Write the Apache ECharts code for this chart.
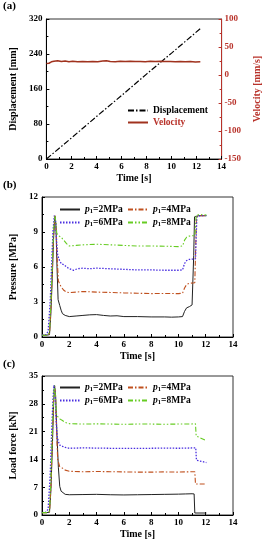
<!DOCTYPE html>
<html><head><meta charset="utf-8">
<script src="https://cdn.jsdelivr.net/npm/echarts@6/dist/echarts.min.js"></script>
<style>html,body{margin:0;padding:0;background:#fff}#c{width:270px;height:550px}</style>
</head><body><div id="c"></div>
<script>
// ---- data ----
const xTicks = [0,2,4,6,8,10,12,14];
const displacement = [[0,0],[2,48],[4,97],[6,145],[8,194],[10,242],[12.3,298]];
const velocity = [[0,20.5],[0.2,21],[0.4,23.5],[0.6,24.5],[0.9,25.5],[1.2,24],[1.5,25],[1.8,23.8],[2.1,24.6],[2.5,23.5],[2.9,24.2],[3.3,23.6],[3.7,24.3],[4.1,23.7],[4.5,24.8],[4.8,25.6],[5.1,24.2],[5.5,23.8],[5.9,24.5],[6.3,24],[6.7,24.6],[7.1,23.9],[7.5,24.3],[7.9,23.6],[8.3,24.4],[8.7,24],[9.1,24.6],[9.5,24.1],[9.9,24.3],[10.3,23.8],[10.7,24.2],[11.1,23.6],[11.5,24],[11.9,23.2],[12.3,23.5]];
const pressure2 = [[0,0.15],[0.3,0.15],[0.55,0.2],[0.65,2],[0.75,5],[0.85,8.5],[0.95,10.35],[1.02,9.6],[1.1,6],[1.18,3.2],[1.3,2.7],[1.4,2.3],[1.5,2.0],[1.7,1.85],[2,1.75],[2.5,1.8],[3,1.85],[3.5,1.9],[4,1.92],[4.5,1.85],[5,1.8],[5.5,1.82],[6,1.75],[7,1.75],[8,1.72],[9,1.72],[9.5,1.7],[10,1.72],[10.3,1.75],[10.45,2.2],[10.6,2.5],[10.8,2.6],[11.0,2.75],[11.08,2.8],[11.12,7],[11.18,10.3],[11.5,10.4],[12.05,10.4]];
const pressure4 = [[0,0.15],[0.4,0.15],[0.55,0.3],[0.65,2.5],[0.75,5.5],[0.85,9],[0.95,10.4],[1.03,9.5],[1.1,7],[1.2,4.8],[1.4,4.3],[1.6,4.0],[1.8,3.85],[2,3.8],[2.5,3.85],[3,3.9],[4,3.85],[5,3.82],[6,3.78],[7,3.75],[8,3.72],[9,3.73],[10,3.72],[10.3,3.75],[10.45,4.2],[10.6,4.5],[10.8,4.6],[11.2,4.65],[11.25,7],[11.32,10.3],[11.6,10.4],[12.05,10.4]];
const pressure6 = [[0,0.15],[0.3,0.2],[0.45,0.5],[0.6,3],[0.7,6],[0.8,9],[0.9,10.4],[1.0,9.9],[1.08,8],[1.15,7],[1.3,6.5],[1.45,6.25],[1.6,6.2],[1.8,6.0],[2,5.85],[2.3,5.72],[2.6,5.85],[3,5.9],[3.5,5.85],[4,5.9],[5,5.85],[6,5.8],[7,5.75],[8,5.75],[9,5.72],[10,5.72],[10.3,5.75],[10.45,6.3],[10.6,6.55],[10.8,6.65],[11.25,6.7],[11.3,8.5],[11.35,10.3],[11.6,10.4],[12.05,10.4]];
const pressure8 = [[0,0.15],[0.4,0.15],[0.55,0.4],[0.65,3],[0.75,6],[0.85,9.2],[0.95,10.4],[1.02,9.8],[1.08,8.9],[1.2,8.7],[1.4,8.55],[1.6,8.3],[1.8,8.0],[2,7.8],[2.5,7.85],[3,7.9],[4,7.95],[5,7.9],[6,7.85],[7,7.8],[8,7.8],[9,7.78],[10,7.75],[10.3,7.8],[10.45,8.3],[10.6,8.55],[10.8,8.65],[11.2,8.7],[11.25,9.5],[11.3,10.45],[11.6,10.5],[12.05,10.45]];
const load2 = [[0,0.6],[0.3,0.6],[0.55,0.7],[0.65,6],[0.75,16],[0.85,28],[0.92,32.6],[1.0,30],[1.1,20],[1.2,12],[1.3,7.2],[1.4,6.0],[1.5,5.5],[1.7,5.2],[2,5.1],[3,5.15],[4,5.2],[5,5.1],[6,5.05],[7,5.1],[8,5.15],[9,5.2],[10,5.25],[10.5,5.3],[11,5.35],[11.15,5.3],[11.2,0.5],[12.05,0.5]];
const load4 = [[0,0.6],[0.4,0.6],[0.55,0.8],[0.65,7],[0.75,18],[0.85,29],[0.93,32.5],[1.0,29],[1.08,20],[1.15,14],[1.3,12.2],[1.5,11.8],[1.7,11.3],[2,11.0],[3,10.9],[4,10.95],[5,10.9],[6,10.85],[7,10.8],[8,10.8],[9,10.85],[10,10.8],[10.5,10.85],[11.2,10.9],[11.25,7.8],[12.05,7.8]];
const load6 = [[0,0.6],[0.3,0.7],[0.45,1.5],[0.6,10],[0.7,20],[0.8,29],[0.88,32.7],[0.95,31],[1.02,25],[1.1,20],[1.2,18.5],[1.3,17.6],[1.5,17.3],[1.7,17.0],[2,16.8],[3,16.9],[4,16.85],[5,16.8],[6,16.75],[7,16.8],[8,16.8],[9,16.85],[10,16.8],[10.5,16.85],[11.27,16.9],[11.32,13.8],[12.05,13.2]];
const load8 = [[0,0.6],[0.4,0.6],[0.55,1],[0.65,9],[0.75,20],[0.85,30],[0.92,32.6],[0.98,30],[1.04,26],[1.1,25],[1.3,24.2],[1.5,23.8],[1.7,23.3],[2,23.0],[3,22.9],[4,22.95],[5,22.9],[6,22.85],[7,22.9],[8,22.9],[9,22.85],[10,22.9],[10.5,22.9],[11.25,22.95],[11.3,19.9],[12.05,18.7]];

// ---- styles ----
const FONT = 'Liberation Serif';
const RED = '#b8322a';
const C2 = '#222222', C4 = '#c0501e', C6 = '#4a2fe0', C8 = '#66cc22';
const lbl = {fontFamily: FONT, fontWeight: 'bold', fontSize: 9, color: '#000'};
const nameStyle = {fontFamily: FONT, fontWeight: 'bold', fontSize: 10, color: '#000'};
const tick = {show: true, inside: true, length: 3, lineStyle: {color: '#000'}};
const minor = {show: true, splitNumber: 2, length: 2, lineStyle: {color: '#000'}};
const grids = [
  {left: 38, right: 37, top: 19, height: 140},
  {left: 38, right: 37, top: 197, height: 140},
  {left: 38, right: 37, top: 376, height: 139}
].map(g => Object.assign(g, {show: true, borderColor: '#333', borderWidth: 1, containLabel: false}));

function xAx(i) {
  return {gridIndex: i, type: 'value', min: xTicks[0], max: xTicks[xTicks.length-1], interval: 2,
    name: 'Time [s]', nameLocation: 'middle', nameGap: 14, nameTextStyle: nameStyle,
    axisLine: {lineStyle: {color: '#000'}}, axisTick: tick, minorTick: minor,
    axisLabel: Object.assign({margin: 3}, lbl), splitLine: {show: false}};
}
function yAx(i, name, min, max, interval, extra) {
  return Object.assign({gridIndex: i, type: 'value', min, max, interval,
    name, nameLocation: 'middle', nameGap: 24, nameTextStyle: nameStyle,
    axisLine: {show: true, lineStyle: {color: '#000'}}, axisTick: tick, minorTick: minor,
    axisLabel: Object.assign({margin: 4}, lbl), splitLine: {show: false}}, extra || {});
}
const pLabel = n => '{i|p}{s|1}{t|' + n.slice(2) + '}';
const legRich = {i: {fontStyle: 'italic', fontFamily: FONT, fontWeight: 'bold', fontSize: 9.5, lineHeight: 11},
  s: {fontFamily: FONT, fontWeight: 'bold', fontSize: 6.5, lineHeight: 11, padding: [4, 0, 0, 0]},
  t: {fontFamily: FONT, fontWeight: 'bold', fontSize: 9.5, lineHeight: 11}};
const noSym = {opacity: 0, borderWidth: 0};
function pLegend(left, top, data) {
  return {left, top, orient: 'vertical', itemWidth: 20, itemHeight: 8, itemGap: 2, padding: 0, data,
    itemStyle: noSym,
    formatter: pLabel, textStyle: {fontFamily: FONT, fontWeight: 'bold', fontSize: 9.5, color: '#000', rich: legRich}};
}
function line(name, data, x, y, color, type, width) {
  return {name, type: 'line', xAxisIndex: x, yAxisIndex: y, data, symbol: 'none', showSymbol: false,
    lineStyle: {color, width: width || 1, type: type || 'solid'}, itemStyle: {color}, animation: false};
}

const chart = echarts.init(document.getElementById('c'), null, {renderer: 'canvas'});
chart.setOption({
  animation: false,
  grid: grids,
  xAxis: [xAx(0), xAx(1), xAx(2)],
  yAxis: [
    yAx(0, 'Displacement [mm]', 0, 320, 80),
    yAx(0, 'Velocity [mm/s]', -150, 100, 50, {position: 'right', nameGap: 26,
      nameTextStyle: Object.assign({}, nameStyle, {color: RED}),
      axisLine: {show: true, lineStyle: {color: RED}},
      axisTick: {show: true, inside: true, length: 3, lineStyle: {color: RED}},
      minorTick: {show: true, splitNumber: 2, length: 2, lineStyle: {color: RED}},
      axisLabel: Object.assign({margin: 3}, lbl, {color: RED})}),
    yAx(1, 'Pressure [MPa]', 0, 12, 3),
    yAx(2, 'Load force [kN]', 0, 35, 7)
  ],
  legend: [
    {left: 127, top: 105, orient: 'vertical', itemWidth: 20, itemHeight: 8, itemGap: 1, padding: 0,
      itemStyle: noSym,
      data: ['Displacement', {name: 'Velocity', textStyle: {color: RED}}],
      textStyle: {fontFamily: FONT, fontWeight: 'bold', fontSize: 9.5, lineHeight: 11, color: '#000'}},
    pLegend(59, 204, ['p1=2MPa', 'p1=6MPa']),
    pLegend(127, 204, ['p1=4MPa', 'p1=8MPa']),
    pLegend(59, 382, ['p1=2MPa', 'p1=6MPa']),
    pLegend(127, 382, ['p1=4MPa', 'p1=8MPa'])
  ],
  graphic: [
    {type: 'text', left: 3, top: 1, style: {text: '(a)', font: 'bold 11px "Liberation Serif"', fill: '#000'}},
    {type: 'text', left: 3, top: 180, style: {text: '(b)', font: 'bold 11px "Liberation Serif"', fill: '#000'}},
    {type: 'text', left: 3, top: 359, style: {text: '(c)', font: 'bold 11px "Liberation Serif"', fill: '#000'}}
  ],
  series: [
    line('Displacement', displacement, 0, 0, '#000', [6, 2, 1.5, 2], 1.2),
    line('Velocity', velocity, 0, 1, '#a0321e', 'solid', 1.5),
    line('p1=2MPa', pressure2, 1, 2, C2, 'solid', 1),
    line('p1=4MPa', pressure4, 1, 2, C4, [5, 2, 1.5, 2], 1.1),
    line('p1=6MPa', pressure6, 1, 2, C6, [1.5, 1.5], 1.3),
    line('p1=8MPa', pressure8, 1, 2, C8, [5, 2, 1.5, 2, 1.5, 2], 1.1),
    line('p1=2MPa', load2, 2, 3, C2, 'solid', 1),
    line('p1=4MPa', load4, 2, 3, C4, [5, 2, 1.5, 2], 1.1),
    line('p1=6MPa', load6, 2, 3, C6, [1.5, 1.5], 1.3),
    line('p1=8MPa', load8, 2, 3, C8, [5, 2, 1.5, 2, 1.5, 2], 1.1)
  ]
});
</script></body></html>
